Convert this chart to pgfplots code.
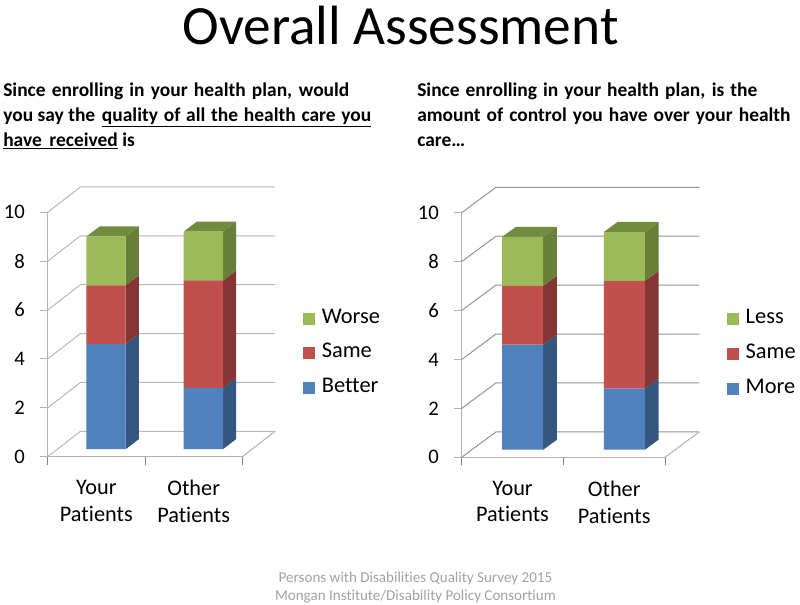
\documentclass[border=0pt]{standalone}
\usepackage{fontspec}
\setmainfont[Ligatures=NoCommon]{Carlito}
\usepackage{pgfplots}
\pgfplotsset{compat=1.18}
\definecolor{cblue}{HTML}{4F81BD}\definecolor{cblues}{HTML}{35577F}
\definecolor{cred}{HTML}{C0504D}\definecolor{creds}{HTML}{853533}
\definecolor{cgreen}{HTML}{9BBB59}\definecolor{cgreens}{HTML}{677F38}\definecolor{cgreent}{HTML}{728C3F}
\newcommand\panel[8]{%
\pgfmathsetmacro\W{#3*2*0.75}\pgfmathsetmacro\H{#4*0.75}%
\pgfmathsetmacro\PX{#1*0.75}\pgfmathsetmacro\PY{-#2*0.75}%
% walls and axes
\begin{axis}[at={(\PX pt,\PY pt)},anchor=south west,scale only axis,width=\W pt,height=\H pt,clip=false,
  xmin=0.5,xmax=2.5,ymin=0,ymax=10,
  axis lines=left,axis line style={-,draw=axgray,line width=0.9pt},
  xtick={1,2},xticklabels={{Your\\Patients},{Other\\Patients}},
  minor xtick={0.5,1.5,2.5},ytick={0,2,...,10},
  major tick length=6pt,minor tick length=6pt,
  tick align=outside,
  major x tick style={draw=none},minor x tick style={draw=black!50,line width=0.6pt},y tick style={draw=axgray,line width=0.7pt},
  /pgf/number format/assume math mode=true,
  yticklabel style={font=\fontsize{15.5pt}{16pt}\selectfont,inner sep=0pt,xshift=-11pt,text=black},
  xticklabel style={font=\fontsize{16.7pt}{20pt}\selectfont,align=center,inner sep=0pt,yshift=-11.5pt,text=black},
]
\addplot[#8,line width=0.75pt,forget plot] coordinates {(0.5,0)(0.837,1.04)(2.837,1.04)};
\addplot[#8,line width=0.75pt,forget plot] coordinates {(0.5,2)(0.837,3.04)(2.837,3.04)};
\addplot[#8,line width=0.75pt,forget plot] coordinates {(0.5,4)(0.837,5.04)(2.837,5.04)};
\addplot[#8,line width=0.75pt,forget plot] coordinates {(0.5,6)(0.837,7.04)(2.837,7.04)};
\addplot[#8,line width=0.75pt,forget plot] coordinates {(0.5,8)(0.837,9.04)(2.837,9.04)};
\addplot[#8,line width=0.75pt,forget plot] coordinates {(0.5,10)(0.837,11.04)(2.837,11.04)};
\addplot[axgray,line width=0.75pt,forget plot] coordinates {(2.5,0)(2.837,1.04)};
\end{axis}
% depth faces of the bars
\begin{axis}[at={(\PX pt,\PY pt)},anchor=south west,scale only axis,width=\W pt,height=\H pt,clip=false,hide axis,
  xmin=0.4,xmax=2.4,ymin=-0.31,ymax=9.69]
\addplot[fill=cblues,draw=none] coordinates {(1.202,0)(1.337,0.41)(1.337,4.71)(1.202,4.3)} -- cycle;
\addplot[fill=creds,draw=none] coordinates {(1.202,4.3)(1.337,4.71)(1.337,7.11)(1.202,6.7)} -- cycle;
\addplot[fill=cgreens,draw=none] coordinates {(1.202,6.7)(1.337,7.11)(1.337,9.11)(1.202,8.7)} -- cycle;
\addplot[fill=cgreent,draw=none] coordinates {(0.798,8.7)(1.202,8.7)(1.337,9.11)(0.933,9.11)} -- cycle;
\addplot[fill=cblues,draw=none] coordinates {(2.202,0)(2.337,0.41)(2.337,2.91)(2.202,2.5)} -- cycle;
\addplot[fill=creds,draw=none] coordinates {(2.202,2.5)(2.337,2.91)(2.337,7.31)(2.202,6.9)} -- cycle;
\addplot[fill=cgreens,draw=none] coordinates {(2.202,6.9)(2.337,7.31)(2.337,9.31)(2.202,8.9)} -- cycle;
\addplot[fill=cgreent,draw=none] coordinates {(1.798,8.9)(2.202,8.9)(2.337,9.31)(1.933,9.31)} -- cycle;
\end{axis}
% front faces of the bars
\begin{axis}[at={(\PX pt,\PY pt)},anchor=south west,scale only axis,width=\W pt,height=\H pt,clip=false,hide axis,
  xmin=0.4,xmax=2.4,ymin=-0.31,ymax=9.69,
  ybar stacked,bar width=0.404,
  reverse legend,
  legend cell align=left,
  legend image code/.code={\fill[##1] (0pt,-5.5pt) rectangle (9pt,3.5pt);},
  legend style={at={(axis cs:#5,#6)},anchor=west,draw=none,fill=none,inner sep=0pt,outer sep=0pt,
    row sep=11pt,font=\fontsize{16.8pt}{18pt}\selectfont,
    /tikz/every odd column/.append style={column sep=5.4pt},
    nodes={inner sep=0pt,text height=12pt,text depth=3pt}},
]
\addplot[fill=cblue,draw=none] coordinates {(1,4.3)(2,2.5)};
\addplot[fill=cred,draw=none] coordinates {(1,2.4)(2,4.4)};
\addplot[fill=cgreen,draw=none] coordinates {(1,2.0)(2,2.0)};
\panellegend
\end{axis}}
\colorlet{axgray}{black!30}
\colorlet{foot}{black!36}
\begin{document}
\begin{tikzpicture}[x=0.75pt,y=-0.75pt]
\path[use as bounding box,fill=white] (0,0) rectangle (800,604);
\node[anchor=base,inner sep=0pt,font=\fontsize{41.5pt}{44pt}\selectfont] at (400.5,44) {Overall Assessment};
\begin{scope}[every node/.style={anchor=base west,inner sep=0pt,font=\fontsize{14.6pt}{16pt}\selectfont\bfseries}]
\node at (3,96) {\makebox[259.5pt][s]{Since enrolling in your health plan, would}};
\node at (3,121.5) {\makebox[74pt][l]{you say the}\underline{\makebox[202pt][s]{quality of all the health care you}}};
\node at (3,146.5) {\underline{\makebox[86pt][s]{have received}} is};
\node at (417,96) {\makebox[255pt][s]{Since enrolling in your health plan, is the}};
\node at (417,121.5) {\makebox[280pt][s]{amount of control you have over your health}};
\node at (417,146.5) {care…};
\end{scope}
\newcommand\panellegend{\legend{Better,Same,Worse}}
\panel{47.7}{456.7}{97.3}{244.4}{3.02}{3.98}{}{black!28}
\renewcommand\panellegend{\legend{More,Same,Less}}
\panel{461.7}{457.3}{101.65}{244.6}{3.005}{3.97}{}{black!42}
\node[anchor=base,inner sep=0pt,font=\fontsize{11.3pt}{13pt}\selectfont,text=foot] at (415.5,582.5) {Persons with Disabilities Quality Survey 2015};
\node[anchor=base,inner sep=0pt,font=\fontsize{11.3pt}{13pt}\selectfont,text=foot] at (415.5,600.5) {Mongan Institute/Disability Policy Consortium};
\end{tikzpicture}
\end{document}
